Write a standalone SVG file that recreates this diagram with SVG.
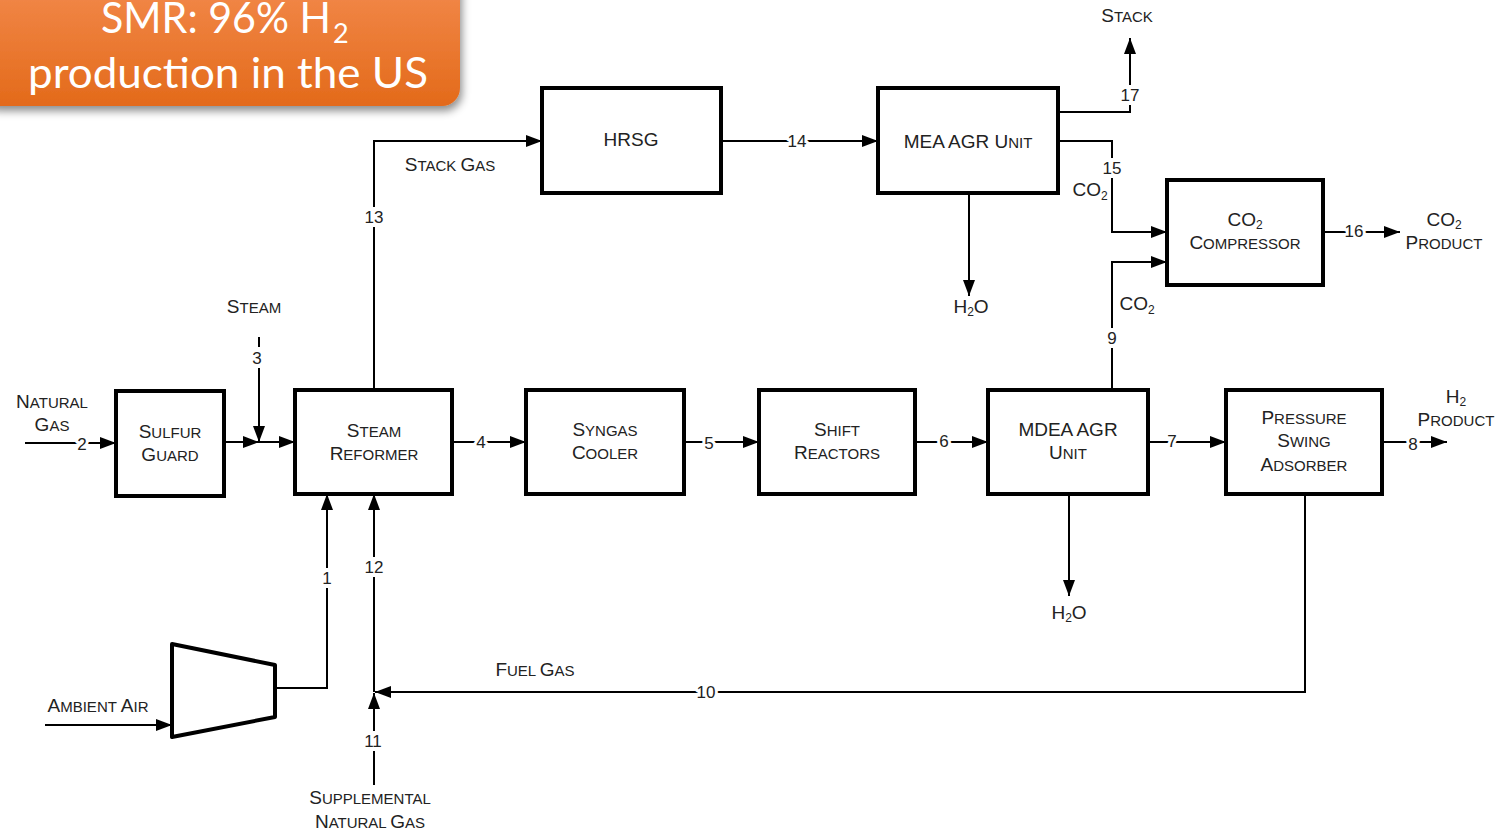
<svg xmlns="http://www.w3.org/2000/svg" width="1503" height="832" viewBox="0 0 1503 832">
<defs>
<linearGradient id="og" x1="0" y1="0" x2="0" y2="1">
<stop offset="0" stop-color="#F48C50"/>
<stop offset="1" stop-color="#E36A1A"/>
</linearGradient>
<filter id="sh" x="-10%" y="-20%" width="125%" height="150%">
<feDropShadow dx="2" dy="5" stdDeviation="4" flood-color="#000" flood-opacity="0.45"/>
</filter>
<marker id="ar" markerWidth="16" markerHeight="12" refX="16" refY="6" orient="auto" markerUnits="userSpaceOnUse">
<path d="M0,0 L16,6 L0,12 z" fill="#000"/>
</marker>
</defs>
<style>
.box{fill:#fff;stroke:#000;stroke-width:4}
.ln{fill:none;stroke:#000;stroke-width:2}
.bg{fill:#fff}
.t{font-family:"Liberation Sans",Arial,sans-serif;font-size:19px;fill:#222;text-anchor:middle}
.s{font-size:15px}
.n{font-family:"Liberation Sans",Arial,sans-serif;font-size:17px;fill:#222;text-anchor:middle;stroke:#fff;stroke-width:6px;paint-order:stroke;stroke-linejoin:round}
.sub{font-size:12px}
.ti{font-family:Lato,"Open Sans",sans-serif;font-size:42px;fill:#fff}
</style>
<rect width="1503" height="832" fill="#fff"/>

<g id="title">
<rect x="-20" y="-30" width="480" height="136" rx="18" fill="url(#og)" filter="url(#sh)"/>
<text class="ti" x="101" y="33" textLength="230" lengthAdjust="spacingAndGlyphs">SMR: 96% H</text>
<text class="ti" x="333" y="43" style="font-size:27px">2</text>
<text class="ti" x="28" y="88" textLength="400" lengthAdjust="spacingAndGlyphs">production in the US</text>
</g>

<g id="connectors">
<path class="ln" d="M25,443 H116" marker-end="url(#ar)"/>
<path class="ln" d="M224,442 H259" marker-end="url(#ar)"/>
<path class="ln" d="M259,442 H295" marker-end="url(#ar)"/>
<path class="ln" d="M259,337 V442" marker-end="url(#ar)"/>
<path class="ln" d="M374,390 V141 H542" marker-end="url(#ar)"/>
<path class="ln" d="M721,141 H878" marker-end="url(#ar)"/>
<path class="ln" d="M1058,112 H1130 V38" marker-end="url(#ar)"/>
<path class="ln" d="M1058,141 H1112 V232 H1167" marker-end="url(#ar)"/>
<path class="ln" d="M969,193 V296" marker-end="url(#ar)"/>
<path class="ln" d="M1112,390 V262 H1167" marker-end="url(#ar)"/>
<path class="ln" d="M1323,232 H1400" marker-end="url(#ar)"/>
<path class="ln" d="M452,442 H526" marker-end="url(#ar)"/>
<path class="ln" d="M684,442 H759" marker-end="url(#ar)"/>
<path class="ln" d="M915,442 H988" marker-end="url(#ar)"/>
<path class="ln" d="M1148,442 H1226" marker-end="url(#ar)"/>
<path class="ln" d="M1382,442 H1447" marker-end="url(#ar)"/>
<path class="ln" d="M1069,494 V596" marker-end="url(#ar)"/>
<path class="ln" d="M1305,494 V692 H375" marker-end="url(#ar)"/>
<path class="ln" d="M374,785 V693" marker-end="url(#ar)"/>
<path class="ln" d="M374,692 V494" marker-end="url(#ar)"/>
<path class="ln" d="M275,688 H327 V494" marker-end="url(#ar)"/>
<path class="ln" d="M45,725 H172" marker-end="url(#ar)"/>

<rect class="bg" x="1119" y="85" width="22" height="20"/>
<rect class="bg" x="362" y="731" width="22" height="20"/>
<rect class="bg" x="363" y="207" width="22" height="20"/>
<rect class="bg" x="363" y="557" width="22" height="20"/>
<rect class="bg" x="320" y="568" width="14" height="20"/>
<rect class="bg" x="250" y="347" width="14" height="21"/>
<rect class="bg" x="1105" y="328" width="14" height="20"/>
<rect class="bg" x="1101" y="158" width="22" height="20"/>

<text class="n" x="82" y="450">2</text>
<text class="n" x="257" y="364">3</text>
<text class="n" x="481" y="448">4</text>
<text class="n" x="709" y="449">5</text>
<text class="n" x="944" y="447">6</text>
<text class="n" x="1172" y="447">7</text>
<text class="n" x="1413" y="450">8</text>
<text class="n" x="1112" y="344">9</text>
<text class="n" x="706" y="698">10</text>
<text class="n" x="373" y="747">11</text>
<text class="n" x="374" y="573">12</text>
<text class="n" x="374" y="223">13</text>
<text class="n" x="797" y="147">14</text>
<text class="n" x="1112" y="174">15</text>
<text class="n" x="1354" y="237">16</text>
<text class="n" x="1130" y="101">17</text>
<text class="n" x="327" y="584">1</text>

<text class="t" x="52" y="408">N<tspan class="s">ATURAL</tspan></text>
<text class="t" x="52" y="431">G<tspan class="s">AS</tspan></text>
<text class="t" x="254" y="313">S<tspan class="s">TEAM</tspan></text>
<text class="t" x="450" y="171">S<tspan class="s">TACK </tspan>G<tspan class="s">AS</tspan></text>
<text class="t" x="1127" y="22">S<tspan class="s">TACK</tspan></text>
<text class="t" x="1090" y="196">CO<tspan class="sub" dy="4">2</tspan></text>
<text class="t" x="1137" y="310">CO<tspan class="sub" dy="4">2</tspan></text>
<text class="t" x="971" y="313">H<tspan class="sub" dy="3">2</tspan><tspan dy="-3">O</tspan></text>
<text class="t" x="1069" y="619">H<tspan class="sub" dy="3">2</tspan><tspan dy="-3">O</tspan></text>
<text class="t" x="1444" y="226">CO<tspan class="sub" dy="3">2</tspan></text>
<text class="t" x="1444" y="249">P<tspan class="s">RODUCT</tspan></text>
<text class="t" x="1456" y="403">H<tspan class="sub" dy="3">2</tspan></text>
<text class="t" x="1456" y="426">P<tspan class="s">RODUCT</tspan></text>
<text class="t" x="535" y="676">F<tspan class="s">UEL </tspan>G<tspan class="s">AS</tspan></text>
<text class="t" x="98" y="712">A<tspan class="s">MBIENT </tspan>A<tspan class="s">IR</tspan></text>
<text class="t" x="370" y="804">S<tspan class="s">UPPLEMENTAL</tspan></text>
<text class="t" x="370" y="828">N<tspan class="s">ATURAL </tspan>G<tspan class="s">AS</tspan></text>
</g>

<g id="sulfur-guard">
<rect class="box" x="116" y="391" width="108" height="105"/>
<text class="t" x="170" y="438">S<tspan class="s">ULFUR</tspan></text>
<text class="t" x="170" y="461">G<tspan class="s">UARD</tspan></text>
</g>
<g id="steam-reformer">
<rect class="box" x="295" y="390" width="157" height="104"/>
<text class="t" x="374" y="437">S<tspan class="s">TEAM</tspan></text>
<text class="t" x="374" y="460">R<tspan class="s">EFORMER</tspan></text>
</g>
<g id="syngas-cooler">
<rect class="box" x="526" y="390" width="158" height="104"/>
<text class="t" x="605" y="436">S<tspan class="s">YNGAS</tspan></text>
<text class="t" x="605" y="459">C<tspan class="s">OOLER</tspan></text>
</g>
<g id="shift-reactors">
<rect class="box" x="759" y="390" width="156" height="104"/>
<text class="t" x="837" y="436">S<tspan class="s">HIFT</tspan></text>
<text class="t" x="837" y="459">R<tspan class="s">EACTORS</tspan></text>
</g>
<g id="mdea-agr">
<rect class="box" x="988" y="390" width="160" height="104"/>
<text class="t" x="1068" y="436">MDEA AGR</text>
<text class="t" x="1068" y="459">U<tspan class="s">NIT</tspan></text>
</g>
<g id="psa">
<rect class="box" x="1226" y="390" width="156" height="104"/>
<text class="t" x="1304" y="424">P<tspan class="s">RESSURE</tspan></text>
<text class="t" x="1304" y="447">S<tspan class="s">WING</tspan></text>
<text class="t" x="1304" y="471">A<tspan class="s">DSORBER</tspan></text>
</g>
<g id="hrsg">
<rect class="box" x="542" y="88" width="179" height="105"/>
<text class="t" x="631" y="146">HRSG</text>
</g>
<g id="mea-agr">
<rect class="box" x="878" y="88" width="180" height="105"/>
<text class="t" x="968" y="148">MEA AGR U<tspan class="s">NIT</tspan></text>
</g>
<g id="co2-compressor">
<rect class="box" x="1167" y="180" width="156" height="105"/>
<text class="t" x="1245" y="226">CO<tspan class="sub" dy="3">2</tspan></text>
<text class="t" x="1245" y="249">C<tspan class="s">OMPRESSOR</tspan></text>
</g>
<g id="air-compressor">
<polygon points="172,644 275,665 275,717 172,737" fill="#fff" stroke="#000" stroke-width="4" stroke-linejoin="round"/>
</g>
</svg>
